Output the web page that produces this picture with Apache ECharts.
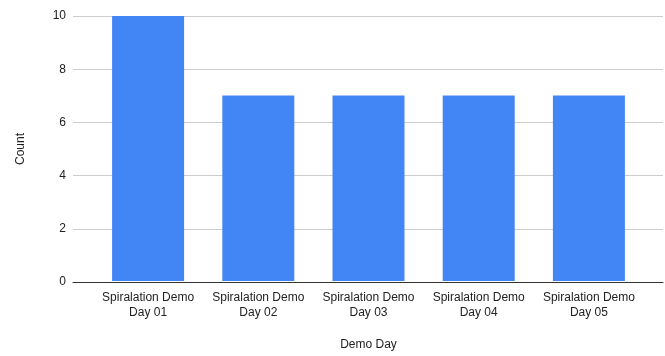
<!DOCTYPE html>
<html>
<head>
<meta charset="utf-8">
<script src="https://cdn.jsdelivr.net/npm/echarts@6/dist/echarts.min.js"></script>
<style>
  html, body { margin: 0; padding: 0; background: #fff; }
  #chart { width: 665px; height: 356px; }
</style>
</head>
<body>
<div id="chart"></div>
<script>
// Demo-day attendance counts
const categories = [
  'Spiralation Demo\nDay 01',
  'Spiralation Demo\nDay 02',
  'Spiralation Demo\nDay 03',
  'Spiralation Demo\nDay 04',
  'Spiralation Demo\nDay 05'
];
const counts = [10, 7, 7, 7, 7];
const yTicks = { min: 0, max: 10, interval: 2 };

const font = 'Liberation Sans, Arial, sans-serif';
const chart = echarts.init(document.getElementById('chart'), null, { renderer: 'canvas' });

chart.setOption({
  animation: false,
  backgroundColor: '#ffffff',
  grid: [
    // wide grid: carries the value scale and the full-width gridlines
    { left: 73, right: 2, top: 16, bottom: 74 },
    // inner grid: carries the category bars
    { left: 93, right: 21, top: 16, bottom: 74 }
  ],
  xAxis: [
    {
      gridIndex: 0, type: 'category', data: categories,
      axisLine: { show: true, lineStyle: { color: '#333333', width: 1 } },
      axisTick: { show: false }, axisLabel: { show: false }, splitLine: { show: false }
    },
    {
      gridIndex: 1, type: 'category', data: categories,
      axisLine: { show: false }, axisTick: { show: false },
      axisLabel: {
        color: '#222222', fontFamily: font, fontSize: 12,
        lineHeight: 15, margin: 9, interval: 0
      },
      name: 'Demo Day', nameLocation: 'middle', nameGap: 58,
      nameTextStyle: { color: '#222222', fontFamily: font, fontSize: 12 }
    }
  ],
  yAxis: [
    {
      gridIndex: 0, type: 'value', min: yTicks.min, max: yTicks.max, interval: yTicks.interval,
      axisLine: { show: false }, axisTick: { show: false },
      axisLabel: { color: '#222222', fontFamily: font, fontSize: 12, margin: 7 },
      splitLine: { show: true, lineStyle: { color: '#cccccc', width: 1 } },
      name: 'Count', nameLocation: 'middle', nameGap: 46, nameRotate: 90,
      nameTextStyle: { color: '#222222', fontFamily: font, fontSize: 12 }
    },
    {
      gridIndex: 1, type: 'value', min: yTicks.min, max: yTicks.max, interval: yTicks.interval,
      show: false
    }
  ],
  series: [
    {
      type: 'bar', xAxisIndex: 1, yAxisIndex: 1,
      data: counts, barWidth: 72,
      itemStyle: { color: '#4285F4' },
      z: 1
    }
  ]
});
</script>
</body>
</html>
